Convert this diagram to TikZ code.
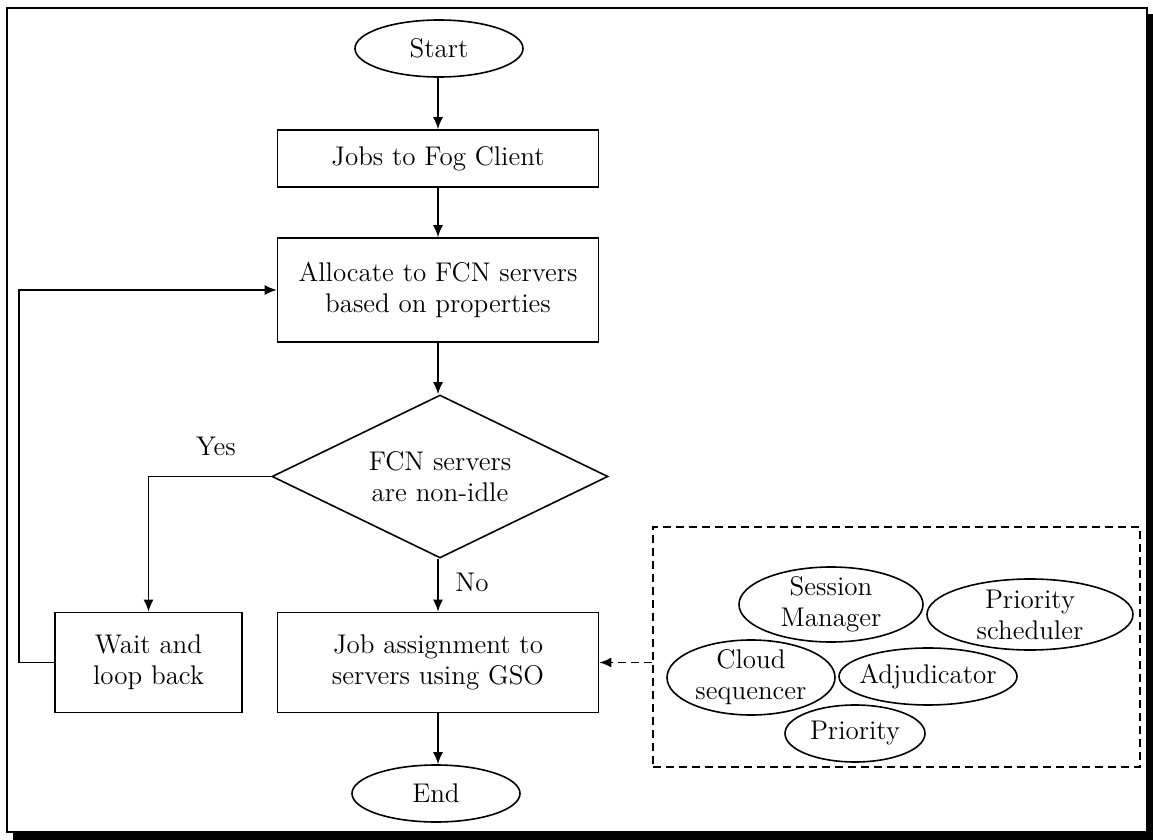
\documentclass[tikz,border=0pt]{standalone}
\usetikzlibrary{shapes.geometric,arrows.meta}
\begin{document}
\begin{tikzpicture}[x=0.5pt,y=-0.5pt,
  every node/.style={font=\fontsize{13.5}{15.5}\selectfont, align=center, inner sep=0pt},
  box/.style={draw, line width=0.8pt, rectangle},
  oval/.style={draw, line width=0.8pt, ellipse},
  dia/.style={draw, line width=0.8pt, diamond, aspect=2},
  arr/.style={line width=0.8pt, -{Latex[length=6pt,width=5pt]}},
  dsh/.style={line width=0.8pt, dash pattern=on 4pt off 2.5pt}]
\useasboundingbox (0,0) rectangle (1153,840);
\fill[black] (13,14) rectangle (1153,840);
\draw[fill=white, line width=1pt] (7,8) rectangle (1147,832);

\node[oval, minimum width=84pt, minimum height=28.5pt, label=center:{Start}] (start) at (439,48.5) {};
\node[box, minimum width=160.5pt, minimum height=28.5pt] (jobs) at (438,158.5) {Jobs to Fog Client};
\node[box, minimum width=160.5pt, minimum height=52pt] (alloc) at (438,290) {Allocate to FCN servers\\based on properties};
\node[dia, minimum width=168pt, minimum height=81.5pt, label=center:{FCN servers\\are non-idle}] (dec) at (440,476.5) {};
\node[box, minimum width=160.5pt, minimum height=50pt] (job) at (438,662.5) {Job assignment to\\servers using GSO};
\node[box, minimum width=93.5pt, minimum height=50pt] (wait) at (148.5,662.5) {Wait and\\loop back};
\node[oval, minimum width=84pt, minimum height=28.5pt, label=center:{End}] (end) at (436,793.5) {};
\coordinate (lp) at (19,290);

\node (yes) at (216,446) {Yes};
\node (no) at (472,582) {No};

\draw[arr] (start.south -| jobs.north) -- (jobs.north);
\draw[arr] (jobs) -- (alloc);
\draw[arr] (alloc) -- (dec.north -| alloc.south);
\draw[arr] (dec.south -| job.north) -- (job.north);
\draw[arr] (job.south) -- (job.south |- end.north);
\draw[arr] (dec.west) -| (wait.north);
\draw[arr] (wait.west) -- (wait.west -| lp) -- (lp) -- (alloc.west);

\node[draw, dsh, minimum width=243.5pt, minimum height=120pt] (grp) at (896.5,647) {};
\draw[arr, dsh] (grp.west |- job.east) -- (job.east);

\node[oval, minimum width=92pt, minimum height=37.5pt, label=center:{Session\\Manager}] (sm) at (831,604.5) {};
\node[oval, minimum width=103pt, minimum height=35.5pt, label=center:{Priority\\scheduler}] (ps) at (1030,614.5) {};
\node[oval, minimum width=84pt, minimum height=37.5pt, label=center:{Cloud\\sequencer}] (cs) at (751,677.5) {};
\node[oval, minimum width=89pt, minimum height=28.5pt, label=center:{Adjudicator}] (adj) at (928,676.5) {};
\node[oval, minimum width=70pt, minimum height=28.5pt, label=center:{Priority}] (pr) at (855,733.5) {};
\end{tikzpicture}
\end{document}
